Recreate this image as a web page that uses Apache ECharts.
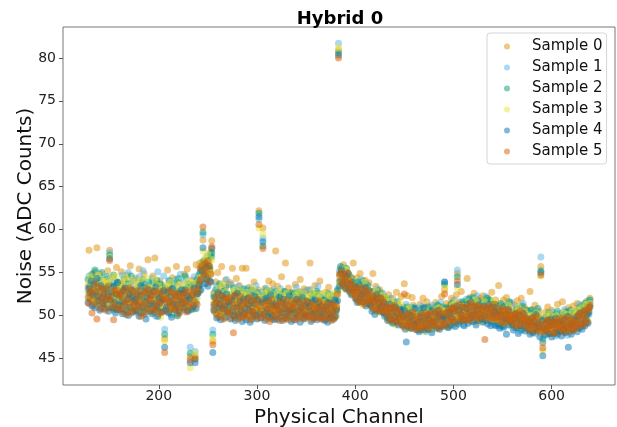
<!DOCTYPE html>
<html>
<head>
<meta charset="utf-8">
<script src="https://cdn.jsdelivr.net/npm/echarts@6/dist/echarts.min.js"></script>
<style>
  html, body { margin: 0; padding: 0; background: #fff; }
  #chart { width: 617px; height: 427px; }
</style>
</head>
<body>
<div id="chart"></div>
<script>
// physical channels 128..639, one point per channel and sample
var firstChannel = 128;
var xTicks = [200, 300, 400, 500, 600];
var yTicks = [45, 50, 55, 60, 65, 70, 75, 80];
var sampleNames = ['Sample 0', 'Sample 1', 'Sample 2', 'Sample 3', 'Sample 4', 'Sample 5'];

// noise (ADC counts) per channel, rows of 16 channels
var sample0 = [
  53.4,57.6,52.1,54.2,51.6,53.9,55.0,52.7,54.6,57.9,51.8,53.3,54.8,52.4,50.9,53.6,
  54.1,52.9,51.3,53.8,55.2,52.2,57.6,53.5,51.9,54.4,52.6,50.8,53.2,55.6,52.0,53.9,
  51.7,53.6,55.1,52.4,50.6,53.9,52.8,51.2,54.7,52.3,53.1,55.8,51.5,52.9,54.0,50.9,
  52.6,54.3,51.1,53.4,55.4,50.7,52.9,53.8,51.6,54.9,52.2,50.4,53.1,56.5,52.5,51.8,
  53.2,51.4,54.6,52.0,56.7,50.8,53.7,52.3,51.1,54.0,52.7,50.5,53.5,51.9,47.3,52.8,
  52.4,55.3,51.0,53.6,50.3,52.9,54.4,51.7,53.0,50.6,55.7,52.1,51.3,53.8,52.6,50.9,
  53.1,51.6,54.8,52.5,50.7,55.4,53.3,52.0,45.2,51.8,54.1,53.0,51.4,45.3,55.9,52.7,
  54.6,53.2,56.1,55.6,54.9,58.8,56.4,55.7,55.9,54.6,56.8,55.3,55.2,57.4,58.7,47.0,
  52.6,50.4,53.9,51.7,55.0,52.2,50.9,53.4,55.7,51.5,52.8,50.3,54.1,52.0,51.2,53.6,
  52.1,53.8,50.6,55.5,51.9,52.7,50.2,54.3,51.4,52.9,53.5,50.8,51.7,55.5,52.4,51.0,
  51.9,55.5,50.4,52.6,53.3,51.1,50.0,52.8,51.6,53.9,50.7,52.2,51.3,53.0,62.2,51.4,
  52.3,50.9,60.2,51.5,53.1,50.2,52.6,51.8,54.0,50.5,52.9,51.2,53.7,50.8,52.0,57.5,
  51.6,53.4,50.1,52.2,51.0,54.5,50.7,52.8,51.3,56.1,50.4,52.5,53.2,51.1,50.0,52.7,
  52.0,50.6,51.8,53.6,50.3,52.4,51.5,50.9,54.2,51.2,52.7,50.5,53.1,51.7,50.2,52.9,
  51.3,53.0,56.1,50.8,52.3,51.6,50.1,53.5,51.9,50.7,52.6,51.0,54.0,50.4,52.1,51.5,
  51.8,50.5,52.7,51.2,50.0,53.3,51.6,50.8,52.4,49.7,51.1,50.3,52.0,51.4,52.8,80.9,
  54.6,55.5,54.2,53.7,55.9,54.8,53.5,55.1,54.0,53.3,54.7,53.8,52.9,54.3,56.1,53.6,
  53.5,52.1,54.4,53.0,51.8,54.9,52.6,53.7,51.5,52.9,54.1,53.2,51.9,52.5,53.8,52.2,
  52.4,51.0,54.9,52.8,51.5,53.4,50.7,52.1,51.8,53.0,50.4,52.6,51.3,52.0,50.9,51.7,
  51.8,50.2,52.4,50.9,51.5,49.6,52.0,50.6,51.3,49.9,52.7,50.4,51.1,49.8,50.7,52.2,
  50.5,51.0,53.7,49.3,50.8,52.3,49.9,50.4,48.8,50.1,52.1,51.2,49.5,50.7,48.9,50.3,
  50.2,48.7,51.3,49.8,50.6,52.0,49.1,50.9,48.5,51.6,49.4,50.3,48.9,51.0,49.7,50.5,
  50.9,49.4,51.5,50.2,48.8,51.1,50.5,49.6,52.2,50.8,49.2,53.0,50.0,51.4,49.9,50.6,
  51.2,49.8,52.0,50.6,51.7,49.5,50.9,52.4,54.9,50.1,51.5,49.9,52.8,50.4,51.1,49.7,
  51.6,50.2,54.3,51.0,49.8,52.1,50.7,51.4,50.0,52.6,51.2,49.6,50.9,51.8,50.3,52.0,
  51.1,50.0,52.3,50.8,49.7,51.6,50.4,52.0,49.9,51.3,50.6,52.7,49.5,51.0,50.2,51.8,
  50.7,49.4,53.5,50.1,51.2,49.0,50.5,51.8,49.7,50.3,52.1,49.2,50.9,49.8,51.4,50.0,
  50.4,49.1,51.2,50.0,48.7,51.7,49.6,50.8,49.3,52.0,50.2,48.9,51.0,49.5,50.6,49.0,
  50.1,48.6,52.8,49.5,50.7,48.3,49.8,51.2,48.9,50.0,49.2,50.5,48.4,55.7,49.6,46.8,
  49.7,48.2,50.4,49.0,51.0,48.5,49.9,48.0,50.6,49.3,47.9,50.1,48.7,49.5,51.3,48.4,
  49.8,48.6,50.2,51.6,49.1,48.3,50.5,49.4,48.8,50.9,49.6,48.1,50.0,49.2,51.1,48.9,
  50.3,49.0,51.4,49.7,50.8,48.8,50.1,51.2,49.5,50.6,49.9,51.6,50.4,49.3,51.0,52.0
];
var sample1 = [
  53.0,54.6,51.9,52.7,53.8,51.2,54.0,52.4,55.1,51.7,53.3,52.0,54.4,50.8,52.9,53.6,
  52.2,51.4,53.5,54.2,50.9,52.8,57.3,51.6,53.9,52.5,50.6,54.0,52.1,53.4,51.2,52.7,
  52.9,50.7,53.1,54.7,51.5,52.3,50.2,53.6,51.8,55.0,52.6,51.1,53.8,50.5,52.4,54.1,
  51.4,53.2,52.0,50.3,54.5,52.7,51.0,53.9,55.2,51.6,50.1,52.9,51.3,53.5,50.8,52.5,
  52.0,54.3,50.6,51.8,53.2,49.9,52.5,55.1,51.3,50.4,53.7,52.2,51.0,54.6,48.4,51.5,
  50.8,52.6,54.1,51.2,53.0,50.1,51.7,52.9,50.5,54.2,51.9,53.4,50.2,52.0,54.8,51.4,
  52.7,53.9,51.1,50.6,54.3,52.2,51.5,53.6,46.3,52.8,50.9,53.2,54.5,45.8,52.1,53.7,
  53.3,54.8,52.9,55.4,56.2,59.4,54.6,55.8,53.7,56.9,54.3,55.5,57.1,54.9,56.8,48.3,
  51.0,52.7,50.3,53.5,51.6,49.8,52.4,50.9,53.1,51.4,50.5,52.9,51.2,54.2,50.7,52.1,
  50.6,51.9,53.6,50.2,52.5,51.1,49.7,52.8,50.9,53.4,51.5,49.9,52.2,50.4,53.0,51.7,
  52.4,50.1,51.6,53.1,50.7,52.3,51.0,49.6,52.9,50.5,51.8,53.5,50.3,52.0,61.2,50.9,
  51.3,52.7,59.0,50.4,51.9,53.2,50.6,52.1,49.8,51.4,52.8,50.2,51.6,53.0,50.9,52.3,
  50.7,52.0,51.3,49.9,53.1,50.5,52.4,51.0,50.2,52.7,51.6,49.7,52.2,50.8,51.9,50.3,
  51.5,52.6,50.0,51.9,53.3,50.6,51.2,52.8,49.8,51.7,50.4,52.3,51.0,49.6,52.9,50.8,
  50.9,51.6,53.0,50.2,52.1,49.7,51.4,52.5,50.6,51.9,53.4,50.1,52.6,51.2,49.9,52.0,
  51.2,50.0,52.3,49.6,51.7,52.6,50.4,51.5,49.8,52.1,50.7,51.9,50.3,52.4,53.1,81.7,
  55.2,53.9,54.8,55.6,53.4,54.5,55.3,53.0,54.7,53.6,52.8,54.2,53.5,52.6,53.9,52.9,
  52.9,53.8,52.3,51.7,53.5,52.6,54.2,51.9,53.1,52.4,51.5,53.7,52.0,51.4,52.8,51.8,
  51.9,52.7,51.2,50.8,52.4,51.6,53.1,50.5,51.8,52.2,50.9,51.5,52.6,50.3,51.7,50.6,
  50.9,51.6,49.8,50.5,52.0,49.4,51.2,50.1,49.7,51.5,50.3,49.5,51.0,50.6,49.2,50.8,
  49.8,50.6,48.9,50.2,51.3,49.2,50.0,48.6,50.9,49.5,48.8,50.4,49.7,51.0,48.5,49.9,
  49.3,50.5,48.4,49.9,51.1,48.8,50.2,49.6,48.1,50.7,49.4,48.6,50.3,49.0,51.2,48.9,
  50.1,48.7,49.6,51.2,50.4,48.9,49.8,51.5,50.0,49.1,50.6,53.9,49.4,50.8,48.6,50.2,
  49.9,51.0,50.3,48.8,50.7,51.8,49.6,50.2,55.3,49.4,50.9,51.6,49.7,50.5,48.9,51.3,
  50.6,51.9,49.5,50.3,52.0,50.9,49.3,51.2,50.5,49.8,51.5,50.1,52.3,49.9,50.7,51.0,
  49.8,51.3,50.6,49.4,51.0,52.2,49.9,50.5,51.7,49.6,50.8,49.2,51.4,50.1,49.7,50.9,
  49.5,50.8,49.0,51.1,48.7,50.3,49.8,48.5,50.6,49.3,51.2,50.0,48.9,50.4,49.6,51.5,
  49.2,50.1,48.6,49.7,51.0,48.9,50.3,49.4,48.2,50.5,49.0,51.4,48.7,50.0,49.3,48.8,
  48.7,49.5,48.1,50.2,49.0,48.4,50.6,49.3,47.9,49.8,48.6,50.1,49.2,56.8,48.5,46.9,
  48.3,49.6,48.9,47.8,50.0,49.2,48.1,49.7,48.6,50.4,48.8,49.5,47.6,49.1,48.4,50.2,
  49.4,48.2,50.1,48.8,49.6,50.7,48.4,49.9,47.7,49.3,50.5,48.7,49.0,50.3,48.5,49.8,
  49.1,50.4,48.9,49.8,51.3,50.0,48.7,49.5,51.1,49.9,50.6,49.2,50.8,51.7,50.1,51.5
];
var sample2 = [
  54.2,52.6,53.5,51.9,54.8,52.3,53.0,55.3,51.6,53.8,52.5,54.1,51.4,53.2,55.0,52.8,
  53.1,51.7,52.9,54.5,51.3,53.6,57.0,52.2,50.9,53.3,54.7,51.8,52.6,50.7,53.9,52.0,
  51.2,53.5,52.3,50.8,53.1,54.3,51.6,52.7,50.4,53.8,51.9,52.4,54.6,51.1,52.9,50.6,
  53.0,51.5,50.6,52.8,51.9,53.7,50.3,52.1,54.2,51.2,53.3,50.9,52.6,51.7,53.9,50.5,
  51.6,52.9,53.8,50.4,52.2,51.3,54.1,50.7,52.5,53.6,50.9,51.8,53.3,52.0,47.8,53.1,
  52.3,50.5,51.9,54.0,51.4,53.2,50.8,52.6,53.7,51.1,50.3,52.8,54.3,51.6,50.9,52.4,
  51.8,53.0,52.4,54.6,51.2,50.6,53.7,52.1,45.6,53.4,52.0,50.8,53.6,44.9,51.5,54.2,
  52.8,53.6,55.0,54.1,55.7,59.7,56.3,54.4,55.2,56.0,54.7,56.5,55.4,56.9,57.3,47.8,
  52.2,51.3,53.0,50.6,52.5,51.8,53.7,50.2,51.9,52.8,50.7,51.6,53.3,51.0,52.4,50.5,
  51.6,50.3,52.4,51.1,53.2,49.9,51.7,52.6,50.5,51.3,52.9,50.8,51.5,52.0,50.1,53.1,
  50.4,52.5,51.2,50.0,52.0,51.6,53.0,50.9,51.4,52.3,50.2,51.8,52.7,50.6,61.9,51.5,
  50.8,51.9,58.1,52.4,50.5,51.7,52.9,50.3,51.2,52.6,49.9,51.5,50.7,52.1,51.0,52.8,
  51.9,50.6,52.2,51.4,49.8,52.5,51.1,50.4,52.8,51.5,50.1,52.0,50.7,51.8,52.6,50.2,
  50.3,51.8,52.5,50.9,51.4,52.7,50.1,51.6,52.3,50.5,51.9,49.9,52.4,51.1,50.6,51.7,
  51.7,50.4,51.2,52.6,50.8,51.9,52.3,50.0,51.5,52.8,50.6,51.3,50.2,52.1,51.0,50.5,
  50.6,51.9,50.2,51.4,52.5,50.1,51.8,49.7,51.0,52.2,50.5,49.9,51.6,50.8,52.9,80.6,
  54.0,55.7,53.6,54.9,55.1,53.8,54.3,55.5,53.2,54.6,53.9,52.7,54.4,53.1,52.8,53.7,
  52.5,53.4,51.9,53.9,52.8,51.6,53.2,52.1,54.0,51.8,52.9,52.3,51.4,53.5,52.0,51.7,
  51.5,52.8,50.9,51.9,52.3,50.6,51.7,52.9,50.8,51.4,52.5,51.0,50.5,51.8,52.1,50.3,
  50.5,49.7,51.8,50.2,49.5,51.3,50.7,49.2,51.0,50.4,49.8,51.6,49.4,50.9,50.0,49.6,
  50.2,49.3,48.9,50.7,49.6,51.0,48.7,49.9,50.4,48.5,49.7,50.9,49.1,48.8,50.3,49.4,
  48.9,50.0,49.6,48.3,50.8,49.2,48.7,50.4,49.8,48.6,51.0,49.4,50.1,48.4,49.5,50.6,
  49.6,50.7,48.9,50.0,51.2,49.3,50.5,48.8,49.9,51.0,50.3,53.6,49.7,50.9,48.7,50.4,
  50.8,49.5,51.4,50.1,49.8,51.1,50.5,49.3,54.5,50.7,49.9,51.2,50.3,49.6,51.6,50.0,
  50.2,51.4,50.7,49.6,51.9,50.3,51.1,49.8,52.1,50.6,49.5,51.3,50.0,51.7,49.9,50.8,
  50.9,49.6,51.5,50.4,51.1,49.8,52.0,50.6,50.1,51.8,49.4,50.7,51.3,49.9,50.5,51.2,
  50.2,49.1,50.6,49.7,51.4,50.0,48.8,50.9,49.4,51.1,49.9,50.5,49.2,51.6,50.1,49.5,
  49.8,48.9,50.4,49.1,49.7,50.8,48.6,49.5,50.2,48.8,51.1,49.4,50.0,48.7,49.9,50.6,
  49.4,48.5,49.9,50.6,48.2,49.7,48.9,50.3,49.1,48.4,50.8,49.0,49.6,55.2,48.3,47.3,
  49.0,48.6,49.8,48.2,49.4,50.3,48.8,47.9,49.6,48.4,50.0,48.9,49.3,48.1,50.5,49.1,
  48.6,49.7,48.3,50.0,48.9,49.5,48.1,50.4,49.2,48.5,49.9,50.6,48.4,49.6,48.8,50.2,
  49.9,48.8,50.5,49.4,50.1,51.0,49.2,50.7,48.9,50.3,51.4,49.6,50.9,50.2,51.2,51.8
];
var sample3 = [
  52.7,53.9,54.5,52.0,53.4,51.5,52.8,54.2,53.1,51.8,54.7,52.4,53.6,51.9,52.6,54.0,
  51.9,53.2,54.0,52.5,53.7,51.4,56.8,52.9,54.3,51.6,53.0,52.2,54.6,52.7,51.5,53.4,
  53.3,52.0,51.4,53.9,52.6,50.9,54.4,51.7,52.8,53.5,50.6,52.9,51.3,54.1,52.2,53.0,
  52.4,50.8,53.6,51.9,52.5,54.1,51.2,50.5,53.0,52.2,51.5,54.4,50.9,52.7,51.6,53.3,
  50.9,53.1,52.0,51.5,54.2,52.6,50.3,52.9,53.5,51.2,49.8,53.0,52.3,51.0,47.0,52.5,
  53.5,51.8,50.6,52.3,53.9,51.0,52.7,50.4,51.6,53.2,52.4,49.9,51.5,53.6,52.1,50.8,
  52.9,51.3,53.5,51.9,52.6,54.0,50.8,53.1,43.9,51.6,53.8,52.4,50.7,45.6,53.2,52.0,
  53.9,52.7,54.4,56.0,54.5,57.5,55.1,56.7,54.0,55.3,57.2,54.6,56.2,55.0,56.5,47.3,
  51.7,50.5,52.6,51.3,49.9,53.2,51.0,52.2,50.4,53.6,51.5,49.7,52.8,50.9,51.8,52.4,
  52.3,51.0,50.2,52.7,51.4,50.6,53.0,51.6,49.8,52.1,50.7,52.9,50.3,51.8,52.4,50.9,
  51.1,50.6,52.7,51.5,49.8,52.0,50.3,51.9,53.1,50.8,51.6,49.9,52.4,51.2,60.2,50.5,
  52.0,50.3,59.5,51.1,52.6,49.7,51.3,52.9,50.4,51.9,50.8,52.5,49.9,51.6,52.2,50.6,
  50.4,51.5,52.9,50.8,51.2,49.6,52.3,51.0,50.5,51.8,52.6,50.9,51.4,49.8,52.0,51.3,
  51.2,49.9,51.6,52.4,50.5,51.1,52.8,50.2,51.5,52.1,49.7,51.0,52.5,50.6,51.8,50.4,
  50.7,52.2,50.3,51.6,52.7,50.9,51.2,49.8,52.4,50.5,51.7,52.0,50.1,51.4,52.6,50.8,
  51.5,50.2,51.3,52.5,50.6,51.0,52.2,50.5,49.5,51.7,52.6,50.4,51.1,49.9,52.3,81.2,
  53.7,54.6,55.0,53.2,54.3,55.4,53.6,54.1,55.2,53.9,54.5,53.4,52.6,54.0,53.3,52.5,
  53.1,52.4,53.6,51.8,52.9,53.3,51.9,52.6,51.2,53.9,52.2,51.6,53.0,52.7,51.3,52.5,
  52.2,51.4,50.8,52.6,51.1,52.9,51.6,50.4,52.3,51.0,51.7,52.4,50.6,51.9,50.7,52.0,
  49.9,51.2,50.6,49.3,51.7,50.9,49.7,51.4,50.2,48.9,50.8,51.1,49.6,50.3,51.5,49.4,
  49.6,48.8,50.3,49.1,50.7,48.5,49.8,50.9,48.6,49.4,50.2,48.7,50.5,49.2,49.9,48.4,
  49.7,48.5,50.3,49.0,48.8,50.1,49.5,48.2,50.6,49.3,48.9,50.4,48.6,49.8,48.3,50.0,
  50.3,49.0,50.7,48.6,49.5,50.9,48.9,50.2,49.3,50.6,48.8,53.3,50.5,49.2,50.1,48.7,
  49.4,50.6,49.0,51.2,50.0,49.2,51.5,50.3,53.2,50.8,49.7,50.4,51.1,49.3,50.2,51.0,
  51.1,49.7,50.5,51.6,49.4,50.9,50.2,51.5,49.6,50.3,51.8,50.7,49.2,50.4,51.2,49.8,
  50.5,51.0,49.3,50.8,51.6,50.1,49.5,51.2,50.7,49.8,51.1,50.3,49.6,51.7,50.0,49.4,
  49.9,50.5,49.2,50.2,49.6,51.0,49.3,50.1,50.8,49.0,50.4,49.7,51.2,48.9,50.3,49.5,
  50.0,49.3,48.8,50.4,49.5,48.6,50.9,49.2,49.8,50.3,48.5,49.7,50.5,49.0,48.7,50.1,
  49.2,49.9,48.7,48.3,50.0,49.4,48.6,49.7,50.3,48.8,49.5,48.2,50.1,54.6,49.0,45.9,
  48.7,49.3,48.0,49.9,48.5,49.0,50.2,48.3,49.6,48.9,48.2,49.8,48.6,50.0,48.8,49.4,
  49.1,48.4,49.6,48.9,50.3,48.6,49.4,48.8,50.1,48.3,49.2,49.8,48.7,50.5,49.3,48.5,
  49.6,50.2,48.9,50.6,49.3,49.8,50.9,48.7,50.4,49.7,50.0,51.3,49.5,50.8,50.6,51.4
];
var sample4 = [
  51.5,53.2,52.7,54.0,51.1,52.4,53.6,50.9,52.8,54.3,51.7,52.2,50.6,53.5,52.0,51.4,
  52.6,50.8,51.9,53.1,52.3,50.5,56.6,51.8,52.7,50.9,53.4,51.5,50.3,52.5,53.8,51.2,
  50.7,52.4,51.6,50.2,52.9,51.3,53.2,50.6,51.9,50.0,52.5,51.0,53.0,52.2,50.4,51.7,
  51.9,50.6,52.5,51.2,49.9,52.3,53.5,51.0,50.4,52.8,51.6,49.6,52.1,50.8,53.0,51.3,
  52.3,50.2,51.4,52.8,50.7,53.3,51.1,49.9,52.0,51.5,52.6,50.4,51.8,52.9,46.3,50.6,
  51.0,52.7,50.3,51.6,52.2,49.8,53.1,51.4,50.7,52.3,51.2,50.0,52.6,50.5,51.8,53.0,
  51.4,52.6,50.9,53.0,51.7,52.3,50.5,51.9,44.5,50.7,52.4,51.1,53.2,44.5,50.8,52.5,
  52.6,53.5,54.1,53.0,55.2,57.9,54.8,53.7,55.6,54.2,53.4,55.8,54.0,53.9,57.8,45.7,
  50.6,52.1,51.4,49.7,52.7,50.9,51.3,49.5,52.3,50.8,52.0,51.1,49.8,52.5,50.4,51.6,
  51.2,49.6,51.8,50.5,50.0,52.3,49.4,51.0,52.6,50.1,49.8,51.7,50.6,49.3,51.9,50.2,
  50.9,49.5,51.3,52.0,50.6,49.2,51.7,50.4,49.9,51.4,52.2,50.0,49.6,51.8,61.5,50.2,
  49.7,51.5,58.6,50.1,49.4,52.0,50.8,49.9,51.7,50.3,52.4,49.6,51.2,50.0,49.5,51.4,
  51.1,49.6,50.7,52.1,50.3,51.5,49.4,51.9,50.8,49.7,51.3,50.5,49.9,52.3,50.6,49.3,
  50.8,51.4,49.5,50.2,51.9,49.8,50.6,51.5,49.2,50.9,52.1,50.3,49.7,51.2,50.0,51.6,
  49.9,51.0,50.5,49.3,51.6,50.2,49.7,51.8,50.4,49.5,50.9,51.5,49.8,50.3,51.1,49.6,
  50.3,49.4,51.0,50.7,49.2,51.5,50.1,49.8,51.3,50.5,49.6,51.8,49.9,50.6,51.7,80.3,
  53.4,54.9,55.3,54.1,53.6,54.8,53.2,54.5,53.8,54.9,53.0,53.6,52.4,53.9,52.9,53.3,
  52.0,53.2,51.5,52.7,53.6,51.9,52.3,53.0,51.6,52.5,53.3,51.1,52.6,51.8,52.9,51.3,
  51.2,50.5,52.2,51.6,50.1,51.9,52.5,50.8,51.4,50.6,52.0,51.1,50.4,51.5,49.9,51.0,
  50.1,49.4,50.8,51.3,49.6,50.4,49.1,50.9,49.8,51.0,49.3,50.2,48.9,50.7,49.7,50.5,
  48.9,49.9,50.6,48.4,46.9,49.7,48.8,50.3,49.2,48.5,50.0,49.4,48.7,50.8,49.0,48.3,
  49.2,48.1,49.8,50.3,48.6,49.4,50.9,48.3,49.1,50.0,48.4,49.7,48.9,50.5,48.0,49.3,
  48.8,50.2,49.3,48.5,50.6,49.9,48.4,50.1,49.5,48.7,49.8,53.9,48.9,49.6,50.4,48.6,
  50.3,48.9,49.7,50.8,49.2,50.5,48.7,51.1,53.6,49.0,50.6,49.3,50.1,51.0,49.5,48.8,
  49.5,50.8,51.3,49.1,50.4,49.7,51.6,50.0,49.3,51.0,50.2,48.9,50.6,49.4,51.2,50.1,
  49.6,50.7,49.2,51.1,50.0,49.4,50.8,49.0,51.3,50.2,48.8,51.0,49.7,50.5,48.9,50.3,
  48.8,49.9,50.5,48.5,50.1,49.3,51.0,48.7,49.6,50.2,47.8,49.5,50.7,48.9,49.3,50.0,
  49.0,48.3,49.6,50.2,48.6,49.4,47.9,50.0,48.8,49.5,48.4,50.3,49.1,48.2,49.7,48.9,
  48.4,49.2,47.8,48.9,49.7,48.0,49.3,48.6,50.1,48.2,49.0,48.7,47.5,55.0,49.4,45.3,
  48.5,47.7,49.0,48.3,49.4,47.9,48.8,49.6,47.5,48.9,49.2,48.0,49.7,48.4,47.8,49.1,
  48.2,49.3,47.6,48.9,48.4,49.5,48.0,48.7,49.9,46.3,48.5,49.1,47.8,49.0,48.3,49.6,
  48.7,49.4,48.1,49.9,48.5,50.3,49.0,48.4,49.7,50.5,48.8,49.6,50.2,49.1,50.4,51.0
];
var sample5 = [
  52.1,51.4,53.0,52.6,50.3,51.8,52.9,53.7,51.2,49.6,52.4,53.3,51.7,50.8,53.1,52.2,
  51.3,52.8,50.6,51.9,53.4,52.0,56.4,50.9,52.5,51.6,49.5,52.9,51.1,53.0,50.7,52.3,
  52.4,51.0,52.7,50.5,51.8,53.1,51.4,50.1,52.6,51.9,50.8,53.2,50.3,51.5,52.8,51.2,
  50.6,52.3,51.5,52.9,50.9,51.7,49.9,52.4,51.1,50.2,52.7,51.4,53.1,50.7,51.9,52.6,
  51.8,50.5,52.4,51.0,52.9,50.7,51.6,52.5,50.2,51.3,52.8,51.7,50.4,52.2,45.7,51.9,
  52.0,51.3,52.9,50.6,51.5,52.7,50.9,51.8,52.4,50.8,51.9,52.6,51.1,50.3,52.3,51.6,
  50.9,52.2,51.6,52.8,50.4,51.5,52.7,51.0,44.8,52.3,51.2,53.0,51.8,45.0,52.6,51.3,
  53.0,53.8,55.5,54.3,55.9,60.3,55.0,56.1,54.6,55.4,56.3,53.9,55.7,54.8,58.0,46.6,
  51.3,50.7,52.0,50.1,51.6,52.5,49.9,51.2,50.5,52.2,49.6,51.5,50.8,52.0,50.3,51.8,
  50.4,52.1,49.7,51.3,48.0,50.8,52.4,50.1,51.6,49.6,51.0,52.2,50.7,49.8,51.4,50.0,
  51.6,50.2,49.8,51.2,52.1,50.6,49.5,51.8,50.4,49.9,51.3,50.7,51.9,49.7,60.6,51.1,
  50.5,49.8,57.8,51.6,50.2,51.1,49.6,50.7,51.5,49.3,50.9,51.9,50.4,49.8,51.2,50.6,
  49.9,51.2,50.5,49.4,51.7,50.8,50.0,51.4,49.6,50.9,51.8,50.2,49.5,51.1,50.4,51.6,
  51.0,49.7,50.9,51.5,49.5,50.4,51.8,49.9,50.7,51.3,50.1,49.6,51.1,50.5,51.7,49.8,
  50.6,49.9,51.4,50.1,49.5,51.2,50.8,49.7,51.0,50.4,49.8,51.7,50.9,49.6,50.5,51.3,
  49.8,50.9,49.6,50.4,51.5,49.9,50.7,51.1,49.4,50.2,51.3,49.7,50.6,51.0,52.5,80.0,
  54.8,54.0,55.1,53.5,54.6,53.9,54.4,53.1,55.0,53.7,54.2,52.9,53.6,52.5,53.4,53.0,
  52.4,51.9,53.0,52.6,51.5,53.3,52.0,51.7,52.8,51.3,52.5,53.1,51.6,52.2,51.9,52.7,
  51.8,51.1,52.0,50.7,51.5,52.3,50.9,51.6,50.5,52.1,51.3,50.6,51.9,50.8,51.4,50.2,
  50.4,50.9,49.6,51.0,50.3,49.4,50.8,49.9,51.2,49.5,50.6,49.1,50.5,49.8,50.2,49.3,
  49.5,48.7,52.5,49.8,48.9,50.2,49.3,48.6,50.0,49.1,48.8,50.4,49.6,48.4,49.9,49.0,
  48.6,49.7,49.1,48.4,50.0,48.8,49.5,50.3,48.7,49.2,50.1,48.5,49.6,50.2,48.9,49.4,
  49.2,50.4,48.8,49.7,50.1,48.5,50.6,49.4,48.9,50.2,49.0,52.5,50.3,48.8,49.5,50.7,
  50.1,49.4,50.8,49.6,51.0,50.4,49.2,50.7,54.0,49.8,51.3,50.2,49.5,50.9,50.0,49.4,
  50.9,49.6,50.3,51.1,50.0,49.4,51.4,50.6,49.9,51.0,50.4,49.7,51.2,50.1,49.6,50.8,
  50.2,51.0,49.8,50.5,47.2,50.9,49.7,50.3,51.1,49.9,50.6,49.5,50.8,50.2,51.3,49.7,
  49.7,50.3,49.4,50.8,49.9,50.5,49.1,50.0,50.7,49.3,50.2,49.8,50.6,49.5,50.0,49.2,
  49.4,49.9,50.2,48.8,49.6,50.3,49.0,49.7,50.5,48.9,49.8,49.3,50.1,49.6,48.7,49.5,
  48.9,48.3,49.5,49.1,48.6,49.8,48.2,49.4,48.8,49.9,48.5,49.2,48.1,54.7,48.7,46.2,
  48.1,49.0,48.5,49.4,48.2,48.8,49.5,48.4,49.1,47.9,48.7,49.3,48.0,48.9,49.6,48.6,
  48.8,49.2,48.5,49.7,48.1,48.9,49.5,48.3,49.0,48.6,49.8,48.2,49.4,48.7,49.1,48.4,
  49.3,48.6,49.9,49.1,50.2,48.8,49.6,50.4,48.9,50.0,49.5,50.7,49.2,50.5,50.9,51.2
];

var samples = [sample0, sample1, sample2, sample3, sample4, sample5];
var colors = ['#DE8F05', '#56B4E9', '#029E73', '#ECE133', '#0173B2', '#D55E00'];

var font = 'DejaVu Sans';

var series = samples.map(function (vals, s) {
    var pts = []
    for (var i = 0; i < vals.length; i++) {
        pts.push([firstChannel + i, vals[i]])
    }
    return {
        name: sampleNames[s],
        type: 'scatter',
        symbol: 'circle',
        symbolSize: 7,
        itemStyle: { color: colors[s], opacity: 0.5 },
        data: pts,
        silent: true
    }
});

var chart = echarts.init(document.getElementById('chart'), null, { renderer: 'canvas' });
chart.setOption({
    animation: false,
    backgroundColor: '#fff',
    title: {
        text: 'Hybrid 0',
        left: 335,
        top: 5,
        textAlign: 'center',
        textStyle: { fontFamily: font, fontSize: 18, fontWeight: 'bold', color: '#000' }
    },
    legend: {
        orient: 'vertical',
        left: 487,
        top: 33,
        padding: [6, 4, 5, 17],
        itemGap: 6,
        itemWidth: 6,
        itemHeight: 14,
        icon: 'circle',
        backgroundColor: '#fff',
        borderColor: '#d6d6d6',
        borderWidth: 1,
        borderRadius: 3,
        textStyle: { fontFamily: font, fontSize: 15, color: '#111', padding: [0, 0, 0, 17] },
        data: sampleNames
    },
    grid: {
        left: 63, right: 2, top: 27, bottom: 42,
        outerBoundsMode: 'none',
        show: true, borderColor: '#777', borderWidth: 1
    },
    xAxis: {
        type: 'value',
        min: 102.5,
        max: 664.5,
        name: 'Physical Channel',
        nameLocation: 'middle',
        nameGap: 19,
        nameTextStyle: { fontFamily: font, fontSize: 20, color: '#111' },
        axisLine: { show: false },
        axisTick: { show: true, length: 4, customValues: xTicks, lineStyle: { color: '#555' } },
        axisLabel: { customValues: xTicks, fontFamily: font, fontSize: 14, color: '#222', margin: 4 },
        splitLine: { show: false }
    },
    yAxis: {
        type: 'value',
        min: 41.9,
        max: 83.6,
        name: 'Noise (ADC Counts)',
        nameLocation: 'middle',
        nameGap: 27,
        nameMoveOverlap: false,
        nameTextStyle: { fontFamily: font, fontSize: 20, color: '#111' },
        axisLine: { show: false },
        axisTick: { show: true, length: 4, customValues: yTicks, lineStyle: { color: '#555' } },
        axisLabel: { customValues: yTicks, fontFamily: font, fontSize: 14, color: '#222', margin: 7 },
        splitLine: { show: false }
    },
    series: series
});
</script>
</body>
</html>
